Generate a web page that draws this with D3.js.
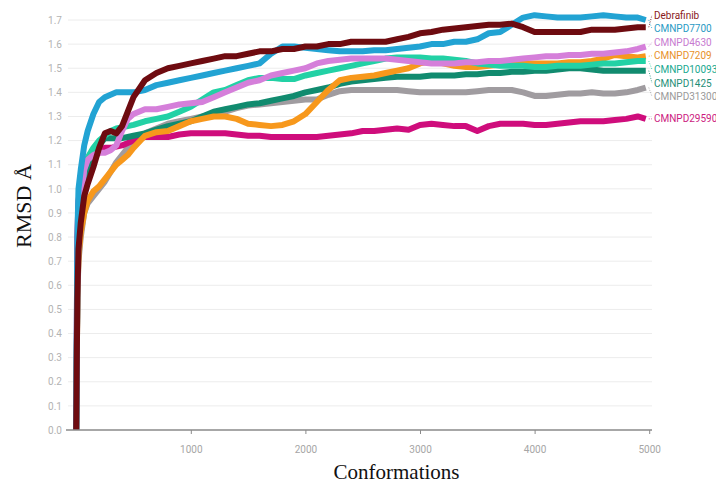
<!DOCTYPE html>
<html>
<head>
<meta charset="utf-8">
<script src="https://cdn.jsdelivr.net/npm/d3@7"></script>
<style>
  body { margin: 0; background: #fff; }
  svg { display: block; }
</style>
</head>
<body>
<div id="chart"></div>
<script>
const conformations = [0, 10, 20, 40, 70, 100, 150, 200, 250, 300, 350, 400, 450, 500, 600, 700, 800, 900,
  1000, 1100, 1200, 1300, 1400, 1500, 1600, 1700, 1800, 1900, 2000, 2100, 2200, 2300, 2400, 2500, 2600,
  2700, 2800, 2900, 3000, 3100, 3200, 3300, 3400, 3500, 3600, 3700, 3800, 3900, 4000, 4100, 4200, 4300,
  4400, 4500, 4600, 4700, 4800, 4900, 4970];

const debrafinib = [0, 0.55, 0.75, 0.86, 0.97, 1.02, 1.09, 1.17, 1.23, 1.24, 1.23, 1.26, 1.32, 1.38, 1.45, 1.48, 1.50, 1.51,
  1.52, 1.53, 1.54, 1.55, 1.55, 1.56, 1.57, 1.57, 1.58, 1.58, 1.59, 1.59, 1.60, 1.60, 1.61, 1.61, 1.61,
  1.61, 1.62, 1.63, 1.645, 1.65, 1.66, 1.665, 1.67, 1.675, 1.68, 1.68, 1.685, 1.67, 1.65, 1.65, 1.65, 1.65,
  1.65, 1.66, 1.66, 1.66, 1.665, 1.67, 1.67];

const cmnpd7700 = [0, 0.8, 1.0, 1.08, 1.18, 1.24, 1.31, 1.36, 1.38, 1.39, 1.40, 1.40, 1.40, 1.40, 1.41, 1.43, 1.44, 1.45,
  1.46, 1.47, 1.48, 1.49, 1.50, 1.51, 1.52, 1.56, 1.59, 1.59, 1.585, 1.58, 1.575, 1.57, 1.57, 1.57, 1.575,
  1.575, 1.58, 1.585, 1.59, 1.60, 1.60, 1.61, 1.61, 1.62, 1.645, 1.65, 1.68, 1.71, 1.72, 1.715, 1.71, 1.71,
  1.71, 1.715, 1.72, 1.715, 1.71, 1.71, 1.70];

const cmnpd4630 = [0, 0.6, 0.8, 0.95, 1.08, 1.12, 1.14, 1.15, 1.15, 1.16, 1.18, 1.24, 1.29, 1.31, 1.33, 1.33, 1.34, 1.35,
  1.355, 1.36, 1.38, 1.40, 1.42, 1.44, 1.45, 1.47, 1.48, 1.49, 1.50, 1.52, 1.53, 1.535, 1.54, 1.54, 1.54,
  1.54, 1.535, 1.53, 1.525, 1.52, 1.52, 1.52, 1.525, 1.525, 1.53, 1.53, 1.535, 1.54, 1.545, 1.55, 1.55, 1.555,
  1.555, 1.56, 1.56, 1.565, 1.57, 1.58, 1.59];

const cmnpd7209 = [0, 0.55, 0.72, 0.82, 0.90, 0.95, 0.99, 1.01, 1.04, 1.07, 1.10, 1.12, 1.14, 1.17, 1.22, 1.235, 1.24, 1.26,
  1.28, 1.29, 1.30, 1.30, 1.29, 1.27, 1.265, 1.26, 1.265, 1.28, 1.31, 1.36, 1.41, 1.45, 1.46, 1.465, 1.47,
  1.48, 1.49, 1.50, 1.52, 1.53, 1.52, 1.51, 1.505, 1.505, 1.51, 1.515, 1.52, 1.52, 1.52, 1.52, 1.52, 1.525,
  1.525, 1.53, 1.54, 1.555, 1.55, 1.545, 1.55];

const cmnpd10093 = [0, 0.6, 0.8, 0.95, 1.08, 1.13, 1.17, 1.20, 1.22, 1.24, 1.25, 1.255, 1.26, 1.265, 1.28, 1.29, 1.30, 1.32,
  1.34, 1.37, 1.40, 1.41, 1.43, 1.45, 1.46, 1.46, 1.455, 1.455, 1.47, 1.48, 1.49, 1.50, 1.51, 1.52, 1.53,
  1.54, 1.545, 1.545, 1.545, 1.54, 1.54, 1.535, 1.53, 1.52, 1.515, 1.51, 1.51, 1.51, 1.505, 1.505, 1.51, 1.51,
  1.51, 1.515, 1.52, 1.52, 1.525, 1.53, 1.53];

const cmnpd1425 = [0, 0.6, 0.78, 0.90, 1.00, 1.07, 1.14, 1.18, 1.21, 1.21, 1.21, 1.21, 1.215, 1.22, 1.23, 1.245, 1.26, 1.27,
  1.28, 1.30, 1.32, 1.33, 1.34, 1.35, 1.355, 1.365, 1.375, 1.385, 1.40, 1.41, 1.42, 1.435, 1.445, 1.45, 1.455,
  1.46, 1.465, 1.465, 1.465, 1.47, 1.47, 1.47, 1.475, 1.475, 1.48, 1.48, 1.485, 1.485, 1.49, 1.49, 1.495, 1.50,
  1.50, 1.495, 1.49, 1.49, 1.49, 1.49, 1.49];

const cmnpd31300 = [0, 0.55, 0.70, 0.80, 0.90, 0.94, 0.97, 1.00, 1.03, 1.07, 1.11, 1.14, 1.17, 1.20, 1.23, 1.25, 1.27, 1.28,
  1.29, 1.30, 1.31, 1.32, 1.335, 1.345, 1.35, 1.355, 1.36, 1.365, 1.37, 1.37, 1.39, 1.405, 1.41, 1.41, 1.41,
  1.41, 1.41, 1.405, 1.40, 1.40, 1.40, 1.40, 1.40, 1.405, 1.41, 1.41, 1.41, 1.40, 1.385, 1.385, 1.39, 1.395,
  1.395, 1.40, 1.395, 1.395, 1.40, 1.41, 1.42];

const cmnpd29590 = [0, 0.8, 0.95, 1.02, 1.08, 1.11, 1.13, 1.15, 1.17, 1.17, 1.175, 1.18, 1.19, 1.20, 1.215, 1.215, 1.215, 1.225,
  1.23, 1.23, 1.23, 1.23, 1.225, 1.22, 1.22, 1.215, 1.215, 1.215, 1.215, 1.215, 1.22, 1.225, 1.23, 1.24, 1.24,
  1.245, 1.25, 1.245, 1.265, 1.27, 1.265, 1.26, 1.26, 1.24, 1.26, 1.27, 1.27, 1.27, 1.265, 1.265, 1.27, 1.275,
  1.28, 1.28, 1.28, 1.285, 1.29, 1.30, 1.29];

const seriesNames = ["Debrafinib", "CMNPD7700", "CMNPD4630", "CMNPD7209", "CMNPD10093", "CMNPD1425", "CMNPD31300", "CMNPD29590"];
const seriesValues = [debrafinib, cmnpd7700, cmnpd4630, cmnpd7209, cmnpd10093, cmnpd1425, cmnpd31300, cmnpd29590];
const seriesColors = ["#6e0b10", "#22a3d3", "#d57fda", "#f7981c", "#22d1a5", "#118b6f", "#a09ca0", "#cf0d7c"];
const labelColors = ["#8a1a1a", "#2a9ac4", "#c77ad0", "#e8912a", "#18a890", "#1f8f78", "#9a9a9a", "#cc1a80"];
const drawOrder = [6, 7, 5, 3, 4, 2, 1, 0]; // back to front

const xTicks = [1000, 2000, 3000, 4000, 5000];
const yTicks = d3.range(0, 17.5).map(d => d / 10);

const width = 716, height = 485;

const svg = d3.select("#chart").append("svg")
  .attr("width", width)
  .attr("height", height);

const x = d3.scaleLinear().domain([0, 5000]).range([76.2, 649.2]);
const y = d3.scaleLinear().domain([0, 1.7]).range([430, 20]);

// gridlines
svg.append("g")
  .selectAll("line")
  .data(yTicks.filter(d => d > 0))
  .enter()
  .append("line")
  .attr("x1", 68).attr("x2", 652)
  .attr("y1", d => y(d)).attr("y2", d => y(d))
  .attr("stroke", "#ececec")
  .attr("stroke-width", 1);

// y tick labels
const yAxis = svg.append("g")
  .attr("transform", "translate(62,0)")
  .call(d3.axisLeft(y).tickValues(yTicks).tickSize(0).tickPadding(0).tickFormat(d3.format(".1f")));
yAxis.select(".domain").remove();
yAxis.selectAll("text")
  .attr("fill", "#b3b3b3")
  .style("font-family", "Roboto, sans-serif")
  .style("font-size", "10px");

// x axis
const xAxis = svg.append("g")
  .attr("transform", "translate(0,430)")
  .call(d3.axisBottom(x).tickValues(xTicks).tickSize(4).tickFormat(d3.format("d")));
xAxis.select(".domain").remove();
xAxis.selectAll(".tick line").attr("stroke", "#8a8a8a");
xAxis.selectAll("text")
  .attr("y", 23).attr("dy", 0)
  .attr("fill", "#a6a6a6")
  .style("font-family", "Roboto, sans-serif")
  .style("font-size", "10px");

// series
const line = d3.line()
  .x((d, i) => x(conformations[i]))
  .y(d => y(d));

const lines = svg.append("g");
drawOrder.forEach(k => {
  lines.append("path")
    .datum(seriesValues[k])
    .attr("fill", "none")
    .attr("stroke", seriesColors[k])
    .attr("stroke-width", 6)
    .attr("stroke-linejoin", "round")
    .attr("d", line);
});

// baseline drawn over the bottom of the lines
svg.append("line")
  .attr("x1", 66).attr("x2", 652)
  .attr("y1", 430).attr("y2", 430)
  .attr("stroke", "#8a8a8a")
  .attr("stroke-width", 1.5);

// end labels, spread so they don't overlap, kept below the top edge
const last = conformations.length - 1;
const ends = seriesValues.map(v => y(v[last]));
const labelPos = ends.slice();
const gap = 13.6, topLimit = 15;
for (let iter = 0; iter < 200; iter++) {
  for (let i = 1; i < labelPos.length; i++) {
    const overlap = labelPos[i - 1] + gap - labelPos[i];
    if (overlap > 0) {
      labelPos[i - 1] -= overlap / 2;
      labelPos[i] += overlap / 2;
    }
  }
  if (labelPos[0] < topLimit) labelPos[0] = topLimit;
}
for (let i = 1; i < labelPos.length; i++) {
  labelPos[i] = Math.max(labelPos[i], labelPos[i - 1] + gap);
}

const xEnd = x(conformations[last]);
const labels = svg.append("g");
seriesNames.forEach((name, i) => {
  labels.append("line")
    .attr("x1", xEnd + 3).attr("y1", ends[i])
    .attr("x2", 652).attr("y2", labelPos[i])
    .attr("stroke", seriesColors[i])
    .attr("stroke-width", 0.8)
    .attr("stroke-dasharray", "1,1.5");
  labels.append("text")
    .attr("x", 654)
    .attr("y", labelPos[i])
    .attr("dominant-baseline", "central")
    .attr("fill", labelColors[i])
    .style("font-family", "Roboto, sans-serif")
    .style("font-size", "10px")
    .text(name);
});

// axis titles
svg.append("text")
  .attr("x", 396.5)
  .attr("y", 479)
  .attr("text-anchor", "middle")
  .style("font-family", "'Liberation Serif', 'Times New Roman', serif")
  .style("font-size", "21px")
  .attr("fill", "#111")
  .text("Conformations");

svg.append("text")
  .attr("transform", "translate(31,206) rotate(-90)")
  .attr("text-anchor", "middle")
  .style("font-family", "'Liberation Serif', 'Times New Roman', serif")
  .style("font-size", "22px")
  .attr("fill", "#111")
  .text("RMSD Å");
</script>
</body>
</html>
